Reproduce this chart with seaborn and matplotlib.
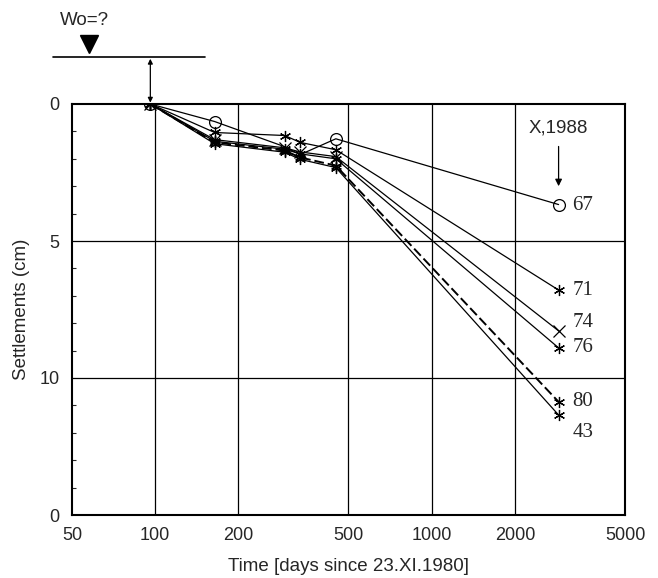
import matplotlib
matplotlib.use("Agg")
import matplotlib.pyplot as plt
import matplotlib.ticker as mticker
import numpy as np
import pandas as pd
import seaborn as sns

# Survey dates (days since 23.XI.1980) and settlements (cm) per benchmark
days = [96, 164, 294, 334, 450, 2876]
s67 = [0.0, 0.64, 1.56, 1.85, 1.27, 3.67]
s71 = [0.0, 1.04, 1.15, 1.40, 1.67, 6.79]
s74 = [0.0, 1.30, 1.60, 1.75, 1.92, 8.28]
s76 = [0.0, 1.36, 1.65, 1.82, 2.00, 8.90]
s80 = [0.0, 1.40, 1.70, 1.95, 2.25, 10.87]
s43 = [0.0, 1.45, 1.76, 2.02, 2.32, 11.35]

series_names = ["67", "71", "74", "76", "80", "43"]
series_values = [s67, s71, s74, s76, s80, s43]

x_ticks = [50, 100, 200, 500, 1000, 2000, 5000]
y_ticks = [0, 5, 10, 15]
y_tick_labels = ["0", "5", "10", "0"]

sns.set_style("white")
plt.rcParams["font.family"] = ["Liberation Sans", "DejaVu Sans"]

fig = plt.figure(figsize=(6.58, 5.78), dpi=100)
ax = fig.add_axes([72 / 658, 1 - 515 / 578, 553 / 658, 411 / 578])

asterisk = (6, 2, 0)
styles = {
    "67": dict(marker="o", markersize=8.5, markerfacecolor="none", linestyle="-", markevery=[0, 1, 4, 5]),
    "71": dict(marker=asterisk, markersize=8, linestyle="-"),
    "74": dict(marker="x", markersize=8, linestyle="-"),
    "76": dict(marker=asterisk, markersize=8, linestyle="-"),
    "80": dict(marker=asterisk, markersize=8, linestyle=(0, (5, 2)), linewidth=1.4),
    "43": dict(marker=asterisk, markersize=8, linestyle="-"),
}

frames = []
for name, vals in zip(series_names, series_values):
    frames.append(pd.DataFrame({"days": days, "settlement": vals, "point": name}))
data = pd.concat(frames, ignore_index=True)

for name in series_names:
    sub = data[data["point"] == name]
    kw = dict(linewidth=0.9)
    kw.update(styles[name])
    sns.lineplot(data=sub, x="days", y="settlement", color="black",
                 markeredgecolor="black", markeredgewidth=0.9,
                 sort=False, ax=ax, legend=False, **kw)

ax.set_xscale("log")
ax.set_xlim(50, 5000)
ax.set_ylim(15, 0)

ax.xaxis.set_major_locator(mticker.FixedLocator(x_ticks))
ax.xaxis.set_major_formatter(mticker.FixedFormatter([str(t) for t in x_ticks]))
ax.xaxis.set_minor_locator(mticker.NullLocator())
ax.yaxis.set_major_locator(mticker.FixedLocator(y_ticks))
ax.yaxis.set_major_formatter(mticker.FixedFormatter(y_tick_labels))
ax.yaxis.set_minor_locator(mticker.MultipleLocator(1))

ax.tick_params(axis="both", which="major", length=0, labelsize=13, pad=9)
ax.tick_params(axis="y", which="minor", direction="in", length=3, width=0.8, left=True)

for g in x_ticks[1:-1]:
    ax.axvline(g, color="black", linewidth=0.9, zorder=0)
for g in y_ticks[1:-1]:
    ax.axhline(g, color="black", linewidth=0.9, zorder=0)

for sp in ax.spines.values():
    sp.set_color("black")
    sp.set_linewidth(1.5)

ax.set_xlabel("Time [days since 23.XI.1980]", fontsize=13.5, labelpad=10)
ax.set_ylabel("Settlements (cm)", fontsize=13.5, labelpad=7)

# End-of-series labels (serif)
label_offsets = {"67": 0.05, "71": 0.0, "74": -0.3, "76": 0.0, "80": 0.0, "43": 0.65}
for name, vals in zip(series_names, series_values):
    ax.text(days[-1] * 1.12, vals[-1] + label_offsets[name], name,
            fontsize=15, family=["Liberation Serif", "DejaVu Serif"],
            va="center", ha="left")

# Survey marker for 1988
ax.text(days[-1], 0.87, "X,1988", fontsize=13.5, ha="center", va="center")
ax.annotate("", xy=(days[-1], 3.0), xytext=(days[-1], 1.55),
            arrowprops=dict(arrowstyle="-|>", color="black", lw=0.9,
                            mutation_scale=10, shrinkA=0, shrinkB=0))

# Water level above the plot
ax.plot([42.6, 151], [-1.71, -1.71], color="black", linewidth=1.2, clip_on=False)
ax.plot([57.8], [-2.2], marker="v", markersize=13, color="black", clip_on=False)
ax.text(55.5, -3.05, "Wo=?", fontsize=13.5, ha="center", va="center")
ax.annotate("", xy=(days[0], -0.05), xytext=(days[0], -1.65),
            arrowprops=dict(arrowstyle="<|-|>", color="black", lw=0.9,
                            mutation_scale=7, shrinkA=0, shrinkB=0),
            annotation_clip=False)

fig.savefig("out.png", dpi=100)
